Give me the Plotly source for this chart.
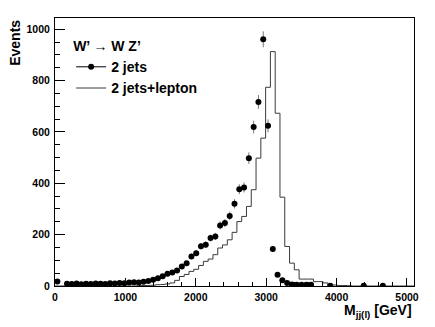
import numpy as np
import plotly.graph_objects as go

# binning: 75 bins of 68 GeV between 0 and 5100 GeV
n_bins = 75
m_min, m_max = 0, 5100

# "2 jets" (points) - events per bin, None = empty bin
jets_counts = [18, None, 9, 8, 10, 7, 9, 8, 10, 9, 8, 11, 10, 12, 11, 14, 15, 14, 17, 19, 24, 30, 38,
               48, 53, 60, 76, 89, 115, 128, 155, 161, 187, 193, 236, 245, 273, 320, 377, 384, 498,
               619, 717, 961, 624, 144, 44, 22, 12, 6, 5, 5, 5, 5,
               None, None, None, 1, None, None, None, None, None, None, 1, None, None, None, 1,
               None, None, None, None, None, None]

# "2 jets+lepton" (histogram) - events per bin
lepton_counts = [0] * 17 + [1, 2, 2, 3, 5, 6, 8,
                            12, 22, 37, 45, 57, 65, 80, 96, 105, 122, 148, 160, 180, 209, 251, 271,
                            310, 375, 498, 576, 774, 913, 673, 346, 154, 89, 63, 27, 27, 27, 17, 17,
                            12, 5, 4, 2, 2, 1] + [0] * 13

edges = np.linspace(m_min, m_max, n_bins + 1)
centers = 0.5 * (edges[:-1] + edges[1:])
errors = [np.sqrt(c) if c else 0 for c in jets_counts]

font = "Liberation Sans, Arial, sans-serif"

fig = go.Figure()

# histogram outline
fig.add_trace(go.Scatter(
    x=edges, y=lepton_counts + [lepton_counts[-1]],
    mode='lines', line=dict(color='#3a3a3a', width=1, shape='hv'),
    showlegend=False, hoverinfo='skip'
))

# points with poisson errors
fig.add_trace(go.Scatter(
    x=centers, y=jets_counts, mode='markers',
    marker=dict(color='black', size=6),
    error_y=dict(type='data', array=errors, color='#777777', thickness=1, width=0),
    showlegend=False
))

# legend entries (ROOT style)
fig.add_trace(go.Scatter(
    x=[None], y=[None], mode='lines+markers', name='2 jets',
    line=dict(color='black', width=1), marker=dict(color='black', size=6)
))
fig.add_trace(go.Scatter(
    x=[None], y=[None], mode='lines', name='2 jets+lepton',
    line=dict(color='#3a3a3a', width=1)
))

axis_common = dict(
    showline=True, linecolor='black', linewidth=1, mirror=True,
    ticks='inside', tickcolor='black', tickwidth=1,
    showgrid=False, zeroline=False,
    tickfont=dict(family=font, size=10.5, color='black', weight='bold'),
)

# page body has an 8px margin, so the figure is sized to fit the window
fig.update_layout(
    width=427, height=319,
    margin=dict(l=47, r=21, t=10, b=41),
    paper_bgcolor='white', plot_bgcolor='white',
    xaxis=dict(range=[m_min, m_max], tick0=0, dtick=1000, ticklen=8,
               minor=dict(ticks='inside', dtick=200, ticklen=4, tickcolor='black'),
               ticklabelstandoff=1, **axis_common),
    yaxis=dict(range=[0, 1044], tick0=0, dtick=200, ticklen=10,
               minor=dict(ticks='inside', dtick=50, ticklen=5, tickcolor='black'),
               ticklabelstandoff=2, **axis_common),
    legend=dict(
        x=0.045, y=0.944, xanchor='left', yanchor='top',
        bgcolor='rgba(0,0,0,0)', itemwidth=30, tracegroupgap=0,
        title=dict(text="W’ → W Z’", font=dict(family=font, size=14, color='black', weight='bold')),
        font=dict(family=font, size=14, color='black', weight='bold'),
    ),
    annotations=[
        dict(text="Events", textangle=-90, xref='paper', yref='paper',
             x=-0.112, y=1, xanchor='center', yanchor='top', showarrow=False,
             font=dict(family=font, size=14, color='black', weight='bold')),
        dict(text="M<sub>jj(l)</sub> [GeV]", xref='paper', yref='paper',
             x=1, y=-0.053, xanchor='right', yanchor='top', showarrow=False,
             font=dict(family=font, size=14, color='black', weight='bold')),
    ],
)

fig.write_html("out.html")
